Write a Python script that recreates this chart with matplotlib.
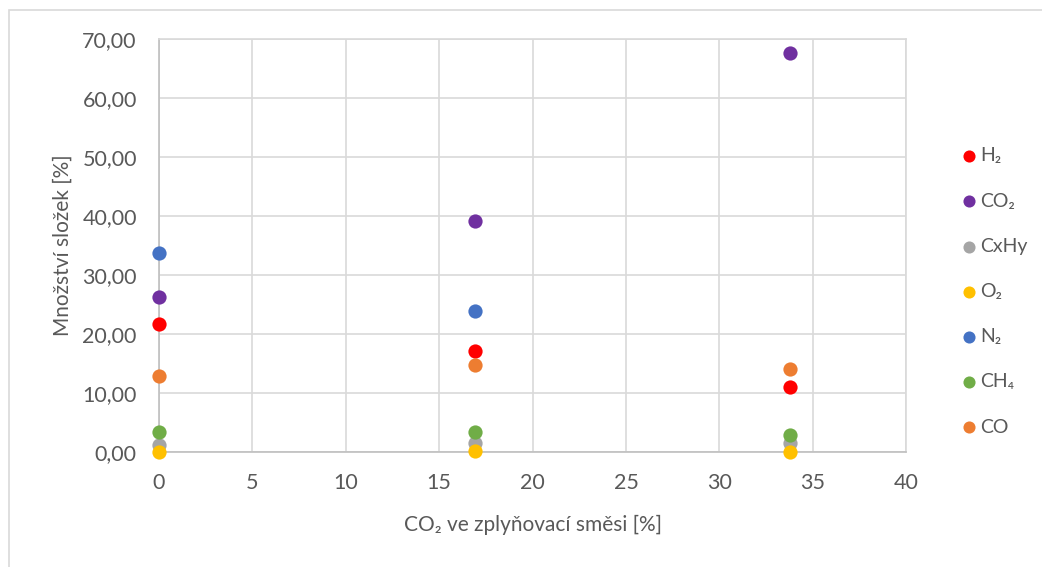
import matplotlib.pyplot as plt
from matplotlib.patches import Rectangle
from matplotlib.ticker import FuncFormatter

plt.rcParams['font.family'] = ['Lato', 'DejaVu Sans']

# ---------- data ----------
co2_mix = [0, 16.9, 33.8]
series_names = ["H₂", "CO₂", "CxHy", "O₂", "N₂", "CH₄", "CO"]
h2 = [21.7, 17.1, 11.0]
co2 = [26.3, 39.2, 67.6]
cxhy = [1.2, 1.6, 1.5]
o2 = [0.05, 0.1, 0.05]
n2 = [33.7, 23.9, None]
ch4 = [3.4, 3.4, 2.9]
co = [12.9, 14.7, 14.1]
colors = ["#FF0000", "#7030A0", "#A5A5A5", "#FFC000", "#4472C4", "#70AD47", "#ED7D31"]
x_ticks = [0, 5, 10, 15, 20, 25, 30, 35, 40]
y_ticks = [0, 10, 20, 30, 40, 50, 60, 70]

txt = "#595959"

fig = plt.figure(figsize=(10.42, 5.67), dpi=100)
ax = fig.add_axes([0.1526, 0.2028, 0.717, 0.7284])

# outer chart frame
fig.patches.append(Rectangle((9 / 1042, -0.1), 1.2, 1 - 10 / 567 + 0.1,
                             transform=fig.transFigure, fill=False,
                             edgecolor="#d9d9d9", lw=1.2))

for name, vals, c in zip(series_names, [h2, co2, cxhy, o2, n2, ch4, co], colors):
    xs = [x for x, v in zip(co2_mix, vals) if v is not None]
    ys = [v for v in vals if v is not None]
    ax.scatter(xs, ys, s=105, color=c, label=name, zorder=3, clip_on=False, linewidths=0)

ax.set_xlim(0, 40)
ax.set_ylim(0, 70)
ax.set_xticks(x_ticks)
ax.set_yticks(y_ticks)
ax.yaxis.set_major_formatter(FuncFormatter(lambda v, p: f"{v:.2f}".replace(".", ",")))
ax.grid(True, color="#d9d9d9", lw=1.2)
ax.set_axisbelow(True)
for s in ax.spines.values():
    s.set_color("#d9d9d9")
    s.set_linewidth(1.2)
ax.spines["left"].set_color("#bfbfbf")
ax.spines["bottom"].set_color("#bfbfbf")
ax.tick_params(length=0, colors=txt, labelsize=15.5)
ax.tick_params(axis="y", pad=16)
ax.tick_params(axis="x", pad=15)

ax.set_xlabel("CO₂ ve zplyňovací směsi [%]", color=txt, fontsize=15, labelpad=16)
ax.set_ylabel("Množství složek [%]", color=txt, fontsize=15, labelpad=7)

leg = ax.legend(loc="upper left", bbox_to_anchor=(1.045, 0.78), frameon=False,
                fontsize=14, labelspacing=1.45, handletextpad=0.0,
                handlelength=1.2, markerscale=0.85)
for t in leg.get_texts():
    t.set_color(txt)

fig.savefig("out.png", dpi=100)
